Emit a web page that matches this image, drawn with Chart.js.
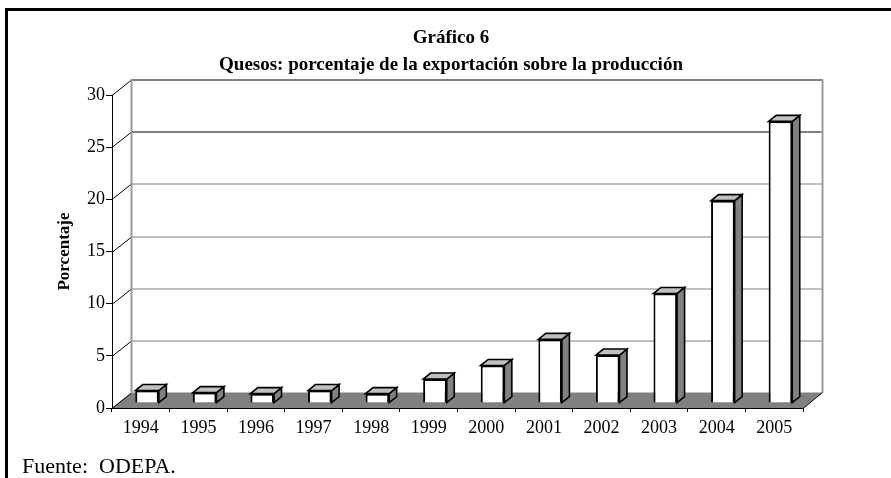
<!DOCTYPE html>
<html><head><meta charset="utf-8">
<script src="https://cdn.jsdelivr.net/npm/chart.js@4/dist/chart.umd.min.js"></script>
<style>html,body{margin:0;padding:0;background:#fff;} canvas{display:block;}</style>
</head><body>
<canvas id="c" width="891" height="478"></canvas>
<script>
// ---- data ----
const years = ['1994','1995','1996','1997','1998','1999','2000','2001','2002','2003','2004','2005'];
const exportShare = [1.2, 1.0, 0.9, 1.2, 0.9, 2.3, 3.6, 6.1, 4.6, 10.5, 19.4, 27.0];
const yMin = 0, yMax = 30, yStep = 5;
const titleLines = ['Gráfico 6', 'Quesos: porcentaje de la exportación sobre la producción'];
const yTitle = 'Porcentaje';
const sourceNote = 'Fuente:  ODEPA.';

// ---- 3D look ----
const DX = 19.5, DY = 15.5;     // wall depth
const BAR_F = 0.32;             // bar position in depth
const BDX = 7.5, BDY = 6;       // bar depth
const SERIF = '"Liberation Serif", "Times New Roman", serif';

const threeD = {
  id: 'threeD',
  beforeDraw(chart) {
    const ctx = chart.ctx, a = chart.chartArea, y = chart.scales.y;
    ctx.save();
    ctx.fillStyle = '#fff';
    ctx.fillRect(0, 0, chart.width, chart.height);
    // frame
    ctx.strokeStyle = '#000'; ctx.lineWidth = 3;
    ctx.beginPath(); ctx.moveTo(6.5, chart.height + 2); ctx.lineTo(6.5, 9.5); ctx.lineTo(chart.width + 2, 9.5); ctx.stroke();
    // titles
    ctx.fillStyle = '#000'; ctx.textAlign = 'center'; ctx.textBaseline = 'alphabetic';
    ctx.font = 'bold 19px ' + SERIF;
    ctx.fillText(titleLines[0], 451, 43);
    ctx.fillText(titleLines[1], 451, 70);
    ctx.textAlign = 'left'; ctx.font = '22px ' + SERIF;
    ctx.fillText(sourceNote, 22, 473);
    // floor
    ctx.fillStyle = '#808080';
    ctx.beginPath();
    ctx.moveTo(a.left, a.bottom); ctx.lineTo(a.right, a.bottom);
    ctx.lineTo(a.right + DX, a.bottom - DY); ctx.lineTo(a.left + DX, a.bottom - DY);
    ctx.closePath(); ctx.fill();
    // back wall gridlines
    y.ticks.forEach(t => {
      const py = Math.round(y.getPixelForValue(t.value)) + 0.5;
      if (t.value > yMin) {
        ctx.strokeStyle = t.value === 25 ? '#000' : '#808080';
        ctx.lineWidth = t.value === yMax ? 2 : 1.2;
        ctx.beginPath(); ctx.moveTo(a.left + DX, py - DY); ctx.lineTo(a.right + DX, py - DY); ctx.stroke();
      }
      ctx.strokeStyle = '#000'; ctx.lineWidth = 1;
      ctx.beginPath(); ctx.moveTo(a.left, py); ctx.lineTo(a.left + DX, py - DY); ctx.stroke();
    });
    // back wall edges
    ctx.strokeStyle = '#999'; ctx.lineWidth = 2;
    ctx.beginPath();
    ctx.moveTo(a.left + DX, a.top - DY); ctx.lineTo(a.left + DX, a.bottom - DY);
    ctx.moveTo(a.right + DX, a.top - DY); ctx.lineTo(a.right + DX, a.bottom - DY);
    ctx.stroke();
    // right floor edge
    ctx.strokeStyle = '#000'; ctx.lineWidth = 1;
    ctx.beginPath(); ctx.moveTo(a.right, a.bottom + 0.5); ctx.lineTo(a.right + DX, a.bottom - DY); ctx.stroke();
    ctx.restore();
  },
  beforeDatasetsDraw(chart) {
    chart.ctx.save();
    chart.ctx.translate(DX * BAR_F, -DY * BAR_F);
  },
  afterDatasetsDraw(chart) {
    const ctx = chart.ctx;
    const meta = chart.getDatasetMeta(0);
    ctx.lineWidth = 1.6; ctx.strokeStyle = '#000'; ctx.lineJoin = 'miter';
    meta.data.forEach(bar => {
      const p = bar.getProps(['x', 'y', 'base', 'width'], true);
      const l = p.x - p.width / 2, r = p.x + p.width / 2;
      // side
      ctx.fillStyle = '#808080';
      ctx.beginPath();
      ctx.moveTo(r, p.y); ctx.lineTo(r + BDX, p.y - BDY); ctx.lineTo(r + BDX, p.base - BDY); ctx.lineTo(r, p.base);
      ctx.closePath(); ctx.fill(); ctx.stroke();
      // top
      ctx.fillStyle = '#c0c0c0';
      ctx.beginPath();
      ctx.moveTo(l, p.y); ctx.lineTo(l + BDX, p.y - BDY); ctx.lineTo(r + BDX, p.y - BDY); ctx.lineTo(r, p.y);
      ctx.closePath(); ctx.fill(); ctx.stroke();
    });
    ctx.restore();
  }
};

new Chart(document.getElementById('c'), {
  type: 'bar',
  data: {
    labels: years,
    datasets: [{
      data: exportShare,
      backgroundColor: '#fff',
      borderColor: '#000',
      borderWidth: 2,
      barPercentage: 0.41,
      categoryPercentage: 1,
      clip: false
    }]
  },
  options: {
    responsive: false,
    devicePixelRatio: 1,
    animation: false,
    layout: { padding: { left: 50, top: 95, right: 88, bottom: 0 } },
    plugins: { legend: { display: false }, title: { display: false }, tooltip: { enabled: false } },
    scales: {
      x: {
        grid: { display: true, drawOnChartArea: false, drawTicks: true, tickLength: 4, color: '#000' },
        border: { display: true, color: '#000', width: 1 },
        ticks: { color: '#000', font: { family: SERIF, size: 18 }, padding: 5, maxRotation: 0 },
        afterFit(s) { s.height = 70; s.paddingLeft = 0; s.paddingRight = 0; }
      },
      y: {
        min: yMin, max: yMax,
        grid: { display: true, drawOnChartArea: false, drawTicks: true, tickLength: 6, color: '#000' },
        border: { display: true, color: '#000', width: 1 },
        ticks: { stepSize: yStep, color: '#000', font: { family: SERIF, size: 18 }, padding: 1 },
        title: { display: true, text: yTitle, color: '#000', font: { family: SERIF, size: 17, weight: 'bold' } },
        afterFit(s) { s.width = 62; s.paddingTop = 0; s.paddingBottom = 0; }
      }
    }
  },
  plugins: [threeD]
});
</script>
</body></html>
